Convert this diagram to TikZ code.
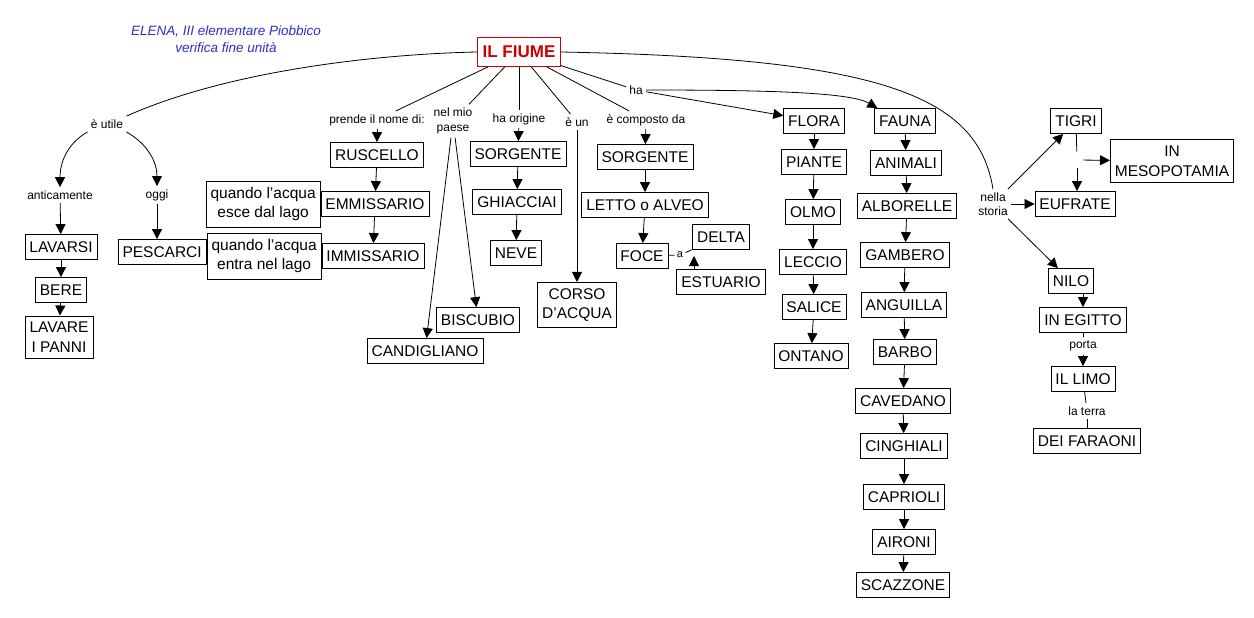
\documentclass[tikz,border=0pt]{standalone}
\usepackage{fontspec}
\setmainfont{Liberation Sans}
\usetikzlibrary{arrows.meta,positioning}
\definecolor{fiumered}{RGB}{204,0,0}
\definecolor{autoreblue}{RGB}{45,45,205}

\begin{document}
\begin{tikzpicture}[x=1pt,y=-1pt,line width=0.8pt,
  cbox/.style={draw,font=\fontsize{15.5}{19.5}\selectfont,align=center,inner xsep=4.5pt,inner ysep=6pt,minimum height=25pt},
  lbl/.style={font=\fontsize{12}{14.5}\selectfont,align=center,inner sep=3pt},
  arr/.style={-{Triangle[width=10pt,length=10pt]}}]
\useasboundingbox (0,0) rectangle (1254,618);
\node[font=\fontsize{13.5}{17}\selectfont\itshape,text=autoreblue,align=center] (autore) at (226,39) {ELENA, III elementare Piobbico\\verifica fine unità};
\node[draw=fiumered,text=fiumered,font=\fontsize{17}{20}\selectfont\bfseries,inner xsep=5pt,minimum height=29pt] (fiume) at (519,52) {IL FIUME};

% è utile
\node[lbl] (utile) at (107,124) {è utile};
\node[lbl] (antic) at (60,195) {anticamente};
\node[lbl] (oggi) at (157,195) {oggi};
\node[cbox] (lavarsi) at (61,247) {LAVARSI};
\node[cbox] (bere) at (61,290) {BERE};
\node[cbox] (lavare) at (59,337) {LAVARE\\I PANNI};
\draw (utile.north east) .. controls (230,70) and (380,54) .. (fiume.west);
\draw[arr] (utile.south west) to[out=210,in=90] (antic.north);
\draw[arr] (utile.south east) to[out=-30,in=90] (oggi.north);
\draw[arr] (antic) -- (lavarsi);
\draw[arr] (lavarsi) -- (bere);
\draw[arr] (bere) -- (lavare);

% prende il nome di
\node[lbl] (prende) at (377,120) {prende il nome di:};
\node[cbox] (ruscello) at (377,155) {RUSCELLO};
\node[cbox] (emmi) at (375,204) {EMMISSARIO};
\node[cbox] (immi) at (373,256) {IMMISSARIO};
\node[cbox,left=0pt of emmi] (esce) {quando l'acqua\\esce dal lago};
\node[cbox,left=0pt of immi] (entra) {quando l'acqua\\entra nel lago};
\node[cbox,left=0pt of entra,yshift=4pt] (pescarci) {PESCARCI};
\draw[arr] (oggi) -- (oggi |- pescarci.north);
\draw (fiume) -- (prende);
\draw[arr] (prende) -- (ruscello);
\draw[arr] (ruscello) -- (emmi);
\draw[arr] (emmi) -- (immi);

% nel mio paese
\node[lbl,font=\fontsize{12}{15.5}\selectfont] (paese) at (453,121) {nel mio\\paese};
\node[cbox] (biscubio) at (478,320) {BISCUBIO};
\node[cbox] (candigliano) at (425,351) {CANDIGLIANO};
\draw (fiume) -- (paese);
\draw[arr] (paese) -- (candigliano);
\draw[arr] (paese) -- (biscubio);

% ha origine
\node[lbl] (origine) at (519,119) {ha origine};
\node[cbox] (sorg) at (518,154) {SORGENTE};
\node[cbox] (ghiacciai) at (517,202) {GHIACCIAI};
\node[cbox] (neve) at (516,253) {NEVE};
\draw (fiume) -- (origine);
\draw[arr] (origine) -- (sorg);
\draw[arr] (sorg) -- (ghiacciai);
\draw[arr] (ghiacciai) -- (neve);

% è un
\node[lbl] (eun) at (577,122) {è un};
\node[cbox] (corso) at (577,305) {CORSO\\D'ACQUA};
\draw (fiume) -- (eun);
\draw[arr] (eun) -- (corso);

% è composto da
\node[lbl] (composto) at (646,120) {è composto da};
\node[cbox] (sorgb) at (645,157) {SORGENTE};
\node[cbox] (letto) at (645,205) {LETTO o ALVEO};
\node[cbox] (foce) at (642,256) {FOCE};
\node[lbl,font=\fontsize{11}{13}\selectfont,inner sep=2pt] (a) at (680,255) {a};
\node[cbox] (delta) at (721,237) {DELTA};
\node[cbox] (estuario) at (721,282) {ESTUARIO};
\coordinate (esttip) at (694,256);
\draw (fiume) -- (composto);
\draw[arr] (composto) -- (sorgb);
\draw[arr] (sorgb) -- (letto);
\draw[arr] (letto) -- (foce);
\draw (foce) -- (a);
\draw (a) -- (delta);
\draw[arr] (estuario.north -| esttip) -- (esttip);

% ha
\node[lbl] (ha) at (636,90) {ha};
\node[cbox] (flora) at (814,121) {FLORA};
\node[cbox] (piante) at (814,162) {PIANTE};
\node[cbox] (olmo) at (813,212) {OLMO};
\node[cbox] (leccio) at (813,262) {LECCIO};
\node[cbox] (salice) at (814,307) {SALICE};
\node[cbox] (ontano) at (811,356) {ONTANO};
\node[cbox] (fauna) at (905,121) {FAUNA};
\node[cbox] (animali) at (906,163) {ANIMALI};
\node[cbox] (alborelle) at (907,206) {ALBORELLE};
\node[cbox] (gambero) at (905,255) {GAMBERO};
\node[cbox] (anguilla) at (904,305) {ANGUILLA};
\node[cbox] (barbo) at (905,352) {BARBO};
\node[cbox] (cavedano) at (903,401) {CAVEDANO};
\node[cbox] (cinghiali) at (904,446) {CINGHIALI};
\node[cbox] (caprioli) at (904,497) {CAPRIOLI};
\node[cbox] (aironi) at (904,542) {AIRONI};
\node[cbox] (scazzone) at (903,585) {SCAZZONE};
\draw (fiume) -- (ha);
\draw[arr] (ha) -- (flora);
\draw[arr] (ha.east) .. controls (760,90) and (850,92) .. (fauna.155);
\draw[arr] (flora) -- (piante);
\draw[arr] (piante) -- (olmo);
\draw[arr] (olmo) -- (leccio);
\draw[arr] (leccio) -- (salice);
\draw[arr] (salice) -- (ontano);
\draw[arr] (fauna) -- (animali);
\draw[arr] (animali) -- (alborelle);
\draw[arr] (alborelle) -- (gambero);
\draw[arr] (gambero) -- (anguilla);
\draw[arr] (anguilla) -- (barbo);
\draw[arr] (barbo) -- (cavedano);
\draw[arr] (cavedano) -- (cinghiali);
\draw[arr] (cinghiali) -- (caprioli);
\draw[arr] (caprioli) -- (aironi);
\draw[arr] (aironi) -- (scazzone);

% nella storia
\node[lbl,font=\fontsize{12}{14}\selectfont] (nella) at (993,204) {nella\\storia};
\node[cbox] (tigri) at (1076,121) {TIGRI};
\node[cbox] (meso) at (1172,161) {IN\\MESOPOTAMIA};
\node[cbox] (eufrate) at (1075,204) {EUFRATE};
\node[minimum width=12pt,minimum height=16pt,inner sep=0pt] (tgj) at (1077,160) {};
\node[cbox] (nilo) at (1071,281) {NILO};
\node[cbox] (egitto) at (1083,320) {IN EGITTO};
\node[lbl] (porta) at (1083,346) {porta};
\node[cbox] (limo) at (1083,379) {IL LIMO};
\node[lbl] (terra) at (1087,411) {la terra};
\node[cbox] (faraoni) at (1087,441) {DEI FARAONI};
\draw (fiume.east) .. controls (880,58) and (978,95) .. (nella.north);
\draw[arr] (nella) -- (tigri);
\draw[arr] (nella) -- (eufrate);
\draw[arr] (nella) -- (nilo);
\draw (tigri) -- (tgj);
\draw[arr] (tgj) -- (tgj |- eufrate.north);
\draw[arr] (tgj) -- (meso);
\draw[arr] (nilo.south -| egitto.north) -- (egitto.north);
\draw (egitto) -- (porta);
\draw[arr] (porta) -- (limo);
\draw (limo) -- (terra);
\draw (terra) -- (faraoni);
\end{tikzpicture}
\end{document}
